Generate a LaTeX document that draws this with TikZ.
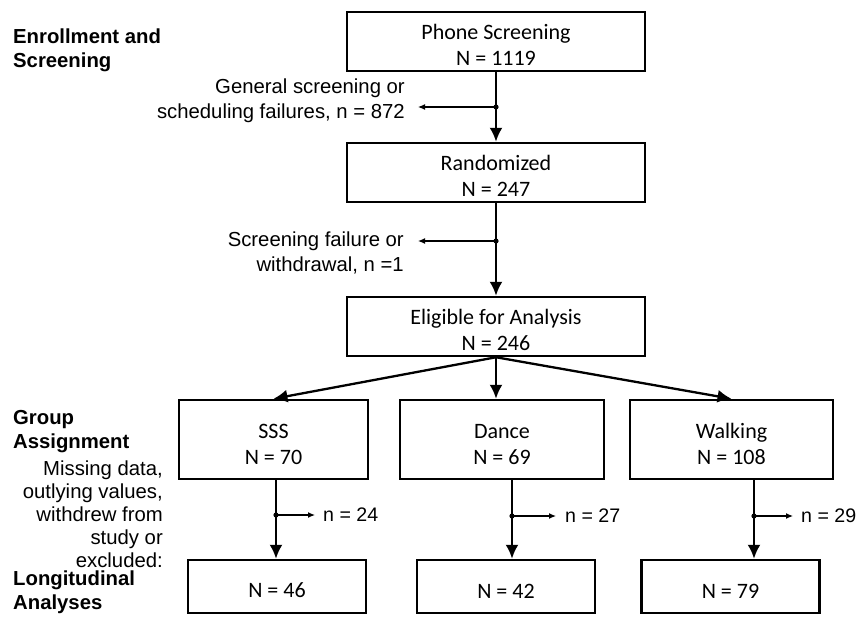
\documentclass[tikz,border=0pt]{standalone}
\usepackage{fontspec}
\setmainfont{Liberation Sans}
\newfontfamily\calib{Carlito}
\usetikzlibrary{arrows.meta}

\begin{document}
\begin{tikzpicture}[x=1pt, y=-1pt, box/.style={draw, line width=2.5pt, align=center, inner sep=0pt, font=\calib\fontsize{22}{26}\selectfont}, big/.style={box, minimum width=298pt, minimum height=59pt, execute at begin node={\rule{0pt}{48pt}}}, grp/.style={box, minimum height=79pt, execute at begin node={\rule{0pt}{51pt}}}, res/.style={box, minimum width=178pt, minimum height=53pt, execute at begin node={\rule{0pt}{23pt}}}, lbl/.style={align=left, anchor=west, inner sep=0pt, font=\bfseries\fontsize{20.3}{24}\selectfont}, note/.style={align=right, anchor=east, inner sep=0pt, font=\fontsize{20.3}{25}\selectfont}, cnt/.style={anchor=west, inner sep=0pt, font=\fontsize{19.6}{25}\selectfont}, n/.style={-{Latex[length=14pt, width=13pt]}, line width=2.3pt}, s/.style={-{Latex[length=7pt, width=6pt]}, line width=1.2pt}]
            \useasboundingbox (0,0) rectangle (857,622);
            % nodes
            \node[big] (phone) at (496,41.5) {Phone Screening\\N = 1119};
            \node[big] (rand) at (496,172.5) {Randomized\\N = 247};
            \node[big] (elig) at (496,326.5) {Eligible for Analysis\\N = 246};
            \node[grp, minimum width=189pt] (sss) at (273.5,439.5) {SSS\\N = 70};
            \node[grp, minimum width=204pt] (dance) at (502,439.5) {Dance\\N = 69};
            \node[grp, minimum width=203pt] (walk) at (731.5,439.5) {Walking\\N = 108};
            \node[res] (r1) at (277,586.5) {N = 46};
            \node[res] (r2) at (506,586.5) {N = 42};
            \node[res] (r3) at (730.5,586.5) {N = 79};
            % labels
            \node[lbl] (enrol) at (13,50) {Enrollment and\\Screening};
            \node[lbl] (group) at (13,431.5) {Group\\Assignment};
            \node[lbl] (longi) at (13,592.5) {Longitudinal\\Analyses};
            \node[note] (fail1) at (405,100.5) {General screening or\\scheduling failures, n = 872};
            \node[note] (fail2) at (404,252.5) {Screening failure or\\withdrawal, n =1};
            \node[note, font=\fontsize{20.3}{23}\selectfont] (miss) at (163,514) {Missing data,\\outlying values,\\withdrew from\\study or\\excluded:};
            \node[cnt] (c1) at (323,515) {n = 24};
            \node[cnt] (c2) at (565,516) {n = 27};
            \node[cnt] (c3) at (801,516) {n = 29};
            % junctions
            \coordinate (j1) at (496,107);
            \coordinate (t1) at (418,107);
            \coordinate (j2) at (496,241);
            \coordinate (t2) at (418,241);
            \coordinate (j3) at (276,515);
            \coordinate (t3) at (315,515);
            \coordinate (j4) at (512,516);
            \coordinate (t4) at (556,516);
            \coordinate (j5) at (754,516);
            \coordinate (t5) at (793,516);
            % edges
            \draw [n] (phone) -- (rand);
            \draw [s] (j1) -- (t1);
            \draw [n] (rand) -- (elig);
            \draw [s] (j2) -- (t2);
            \draw [n] (elig.south) -- (sss.north);
            \draw [n] (elig.south) -- (elig.south |- dance.north);
            \draw [n] (elig.south) -- (walk.north);
            \draw [n] (sss.south -| j3) -- (r1.north -| j3);
            \draw [s] (j3) -- (t3);
            \draw [n] (dance.south -| j4) -- (r2.north -| j4);
            \draw [s] (j4) -- (t4);
            \draw [n] (walk.south -| j5) -- (r3.north -| j5);
            \draw [s] (j5) -- (t5);
            \foreach \j in {j1,j2,j3,j4,j5}
                \fill (\j) circle (2.6pt);
        \end{tikzpicture}
\end{document}
